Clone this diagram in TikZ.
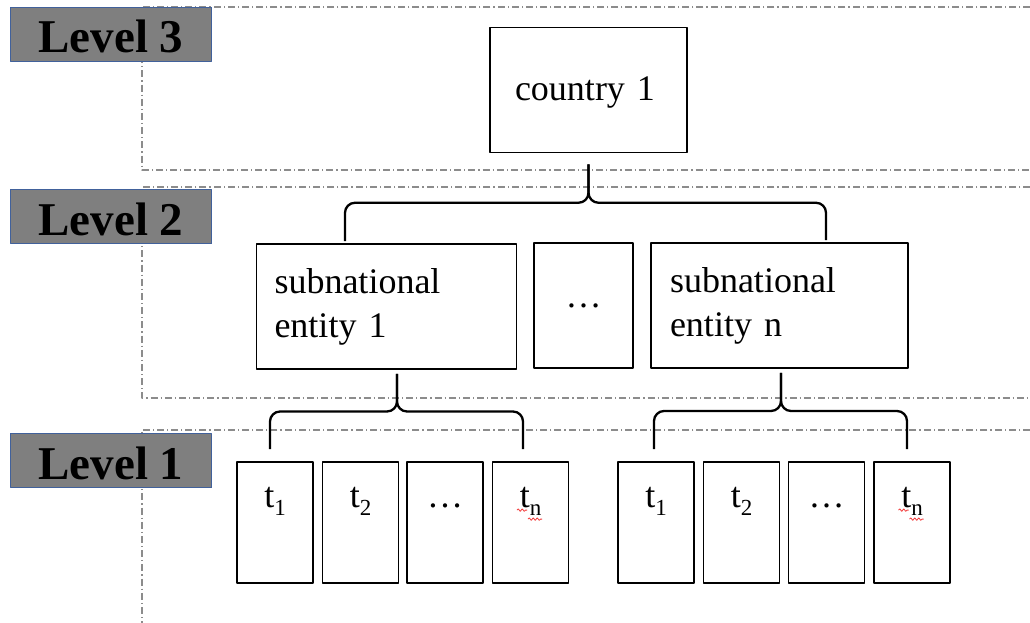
\documentclass[tikz,border=0pt]{standalone}
\usepackage{fontspec}
\setmainfont{Liberation Serif}
\usetikzlibrary{calc,decorations.pathmorphing}

\begin{document}
\begin{tikzpicture}[
    x=1pt,
    y=-1pt,
    line join=round,
    every node/.style={font=\fontsize{36}{44}\selectfont},
]
\definecolor{lvFill}{HTML}{7F7F7F}
\definecolor{lvEdge}{HTML}{41619B}
\definecolor{lvDash}{HTML}{8C8C8C}
\definecolor{lvSpell}{HTML}{F23A3A}

\tikzset{
    levelframe/.style={draw=lvDash,line width=1.3pt,dash pattern=on 7pt off 3pt on 1.2pt off 3pt},
    levellabel/.style={draw=lvEdge,fill=lvFill,line width=1.3pt,minimum width=201pt,inner sep=0pt,text height=45.5pt,text depth=8.5pt,font=\fontsize{47}{50}\selectfont\bfseries},
    unitbox/.style={draw=black,line width=1.8pt,fill=white,inner ysep=0pt,minimum height=125pt,align=left},
    timebox/.style={draw=black,line width=1.8pt,fill=white,minimum width=76pt,inner sep=0pt,text height=45pt,text depth=76pt},
    bracket/.style={draw=black,line width=2.3pt,rounded corners=10pt},
    squiggle/.style={draw=lvSpell,line width=0.8pt,decorate,decoration={snake,amplitude=1.2pt,segment length=4pt}},
}

\newcommand{\tsub}[1]{t\raisebox{-8pt}{\fontsize{23}{25}\selectfont #1}}

\newcommand{\levelbrace}[3]{
    \coordinate (#1-bend) at ($(#1)!0.5!(#2)$);
    \draw[bracket] (#2) |- (#1 |- #1-bend) -- (#1);
    \draw[bracket] (#3) |- (#1 |- #1-bend) -- (#1);
}

\newcommand{\spellmark}[1]{
    \draw[squiggle] ([xshift=-13.5pt,yshift=-49pt]#1.north) -- ([xshift=-3.5pt,yshift=-49pt]#1.north);
    \draw[squiggle] ([xshift=-2.5pt,yshift=-58pt]#1.north) -- ([xshift=11.5pt,yshift=-58pt]#1.north);
}

\useasboundingbox (0,0) rectangle (1030,623);
\fill[white] (0,0) rectangle (1030,623);

% level frames
\draw[levelframe] (1030,7) -- (142,7) -- (142,170) -- (1030,170);
\draw[levelframe] (1030,187) -- (142,187) -- (142,398) -- (1030,398);
\draw[levelframe] (1030,430) -- (142,430) -- (142,623);

\node[levellabel] (lv3) at (111,34.5) {Level 3};
\node[levellabel] (lv2) at (111,216.5) {Level 2};
\node[levellabel] (lv1) at (111,460.5) {Level 1};

% level 3
\node[unitbox,minimum width=197pt,text width=147pt,inner xsep=25pt,text height=73.5pt,text depth=51.5pt] (country) at (588.5,90) {country 1};

% level 2
\node[unitbox,minimum width=260pt,text width=224pt,inner xsep=18pt] (sub1) at (386.5,306.5) {subnational\\entity 1};
\node[unitbox,minimum width=99pt,align=center] (subdots) at (583.5,305.5) {\dots};
\node[unitbox,minimum width=257pt,text width=219pt,inner xsep=19pt] (subn) at (779.5,305.5) {subnational\\entity n};

% level 1
\node[timebox] (ta1) at (275,522.5) {\tsub{1}};
\node[timebox] (ta2) at (360.5,522.5) {\tsub{2}};
\node[timebox] (tadots) at (445,522.5) {\dots};
\node[timebox] (tan) at (530.5,522.5) {\tsub{n}};

\node[timebox] (tb1) at (656,522.5) {\tsub{1}};
\node[timebox] (tb2) at (741.5,522.5) {\tsub{2}};
\node[timebox] (tbdots) at (826.5,522.5) {\dots};
\node[timebox] (tbn) at (912,522.5) {\tsub{n}};

\spellmark{tan}
\spellmark{tbn}

% braces
\coordinate (tip3) at ([yshift=-11pt]country.south);
\coordinate (end3a) at ([xshift=-41.5pt,yshift=2pt]sub1.north);
\coordinate (end3b) at ([xshift=46.5pt,yshift=2pt]subn.north);
\levelbrace{tip3}{end3a}{end3b}

\coordinate (tip2a) at ([xshift=10.5pt,yshift=-4pt]sub1.south);
\coordinate (end2a) at ([xshift=-5pt,yshift=12pt]ta1.north);
\coordinate (end2b) at ([xshift=-7.5pt,yshift=12pt]tan.north);
\levelbrace{tip2a}{end2a}{end2b}

\coordinate (tip2b) at ([xshift=1.5pt,yshift=-4pt]subn.south);
\coordinate (end2c) at ([xshift=-2pt,yshift=12pt]tb1.north);
\coordinate (end2d) at ([xshift=-5pt,yshift=12pt]tbn.north);
\levelbrace{tip2b}{end2c}{end2d}
\end{tikzpicture}
\end{document}
